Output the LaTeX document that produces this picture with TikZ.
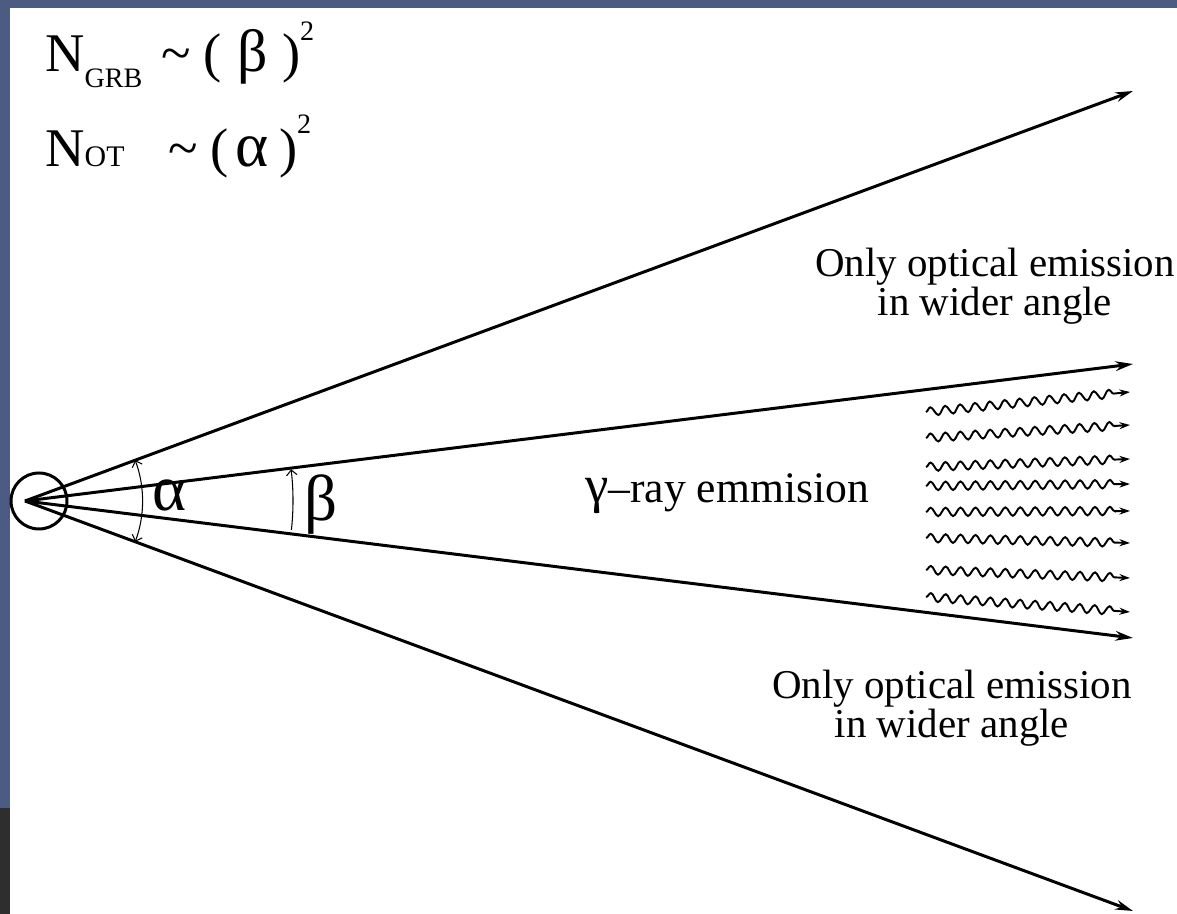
\documentclass[tikz,border=0pt]{standalone}
\usepackage{fontspec}
\setmainfont{Liberation Serif}
\usetikzlibrary{arrows.meta, calc, decorations.pathmorphing}
\definecolor{slideblue}{HTML}{4B5B82}
\definecolor{slidedark}{HTML}{2E2E2E}
\definecolor{ink}{HTML}{000000}
\newcommand{\subtxt}[1]{{\fontsize{16}{16}\selectfont #1}}

\begin{document}
\begin{tikzpicture}[
    >=Stealth,
    ray/.style={-{Stealth[length=10pt, width=5.5pt]}, line width=1.7pt, ink},
    wave/.style={-{Stealth[length=6pt, width=4pt]}, line width=1.1pt, ink,
                 decorate, decoration={snake, segment length=8.5pt,
                 amplitude=2.4pt, post length=7pt}},
    angarc/.style={line width=0.6pt, ink},
    % Text styles
    formula/.style={font=\fontsize{31}{31}\selectfont, inner sep=0pt},
    lbl/.style={font=\fontsize{23.3}{20}\selectfont, align=center, inner sep=0pt},
    greek/.style={font=\fontsize{37}{37}\selectfont, inner sep=0pt}
]

% ========== Page and slide frame ==========
\useasboundingbox (0,0) rectangle (23.54,18.28);
\fill[white] (0,0) rectangle (23.54,18.28);
\fill[slideblue] (0,18.12) rectangle (23.54,18.28);
\fill[slideblue] (0,2.12) rectangle (0.2,18.28);
\fill[slidedark] (0,0) rectangle (0.2,2.12);

% ========== Scaling laws ==========
\node[formula, anchor=base west] (ngrb) at (0.90,16.84)
    {N\raisebox{-9pt}{\subtxt{GRB}}\hspace{11pt}\textasciitilde\hspace{7pt}(\hspace{9pt}{\fontsize{34}{34}\selectfont β}\hspace{8pt})\raisebox{18pt}{\subtxt{2}}};
\node[formula, anchor=base west] (not) at (0.90,14.94)
    {N{\fontsize{17}{17}\selectfont OT}\hspace{25pt}\textasciitilde\hspace{7pt}(\hspace{4pt}{\fontsize{36}{36}\selectfont α}\hspace{6pt})\raisebox{19pt}{\subtxt{2}}};

% ========== Source and cone ==========
\node[circle, draw=ink, line width=1.7pt, minimum size=1.12cm, inner sep=0pt]
    (src) at (0.78,8.26) {};
\coordinate (apex) at (0.50,8.26);
\coordinate (outtop) at (22.66,16.46);
\coordinate (intop) at (22.66,11.00);
\coordinate (inbot) at (22.66,5.52);
\coordinate (outbot) at (22.66,0.06);

\draw[ray] (apex) -- (outtop);
\draw[ray] (apex) -- (intop);
\draw[ray] (apex) -- (inbot);
\draw[ray] (apex) -- (outbot);

% --- opening angles ---
\draw[angarc, {Straight Barb[length=3pt]}-{Straight Barb[length=3pt]}]
    ($(apex)+(20.3:2.35)$) arc[start angle=20.3, end angle=-20.3, radius=2.35];
\draw[angarc, -{Straight Barb[length=3pt]}]
    ($(apex)+(-6.2:5.36)$) arc[start angle=-6.2, end angle=6.8, radius=5.36];
\node[greek] (alpha) at (3.40,8.38) {α};
\node[greek] (beta) at (6.42,8.18) {β};

% ========== Gamma-ray photons ==========
\foreach \ya/\yb in {10.04/10.44, 9.52/9.78, 8.94/9.10, 8.56/8.60,
                     8.04/8.06, 7.52/7.42, 6.88/6.72, 6.34/6.04}
    \draw[wave] (18.52,\ya) -- (22.60,\yb);

\node[lbl, anchor=base west, font=\fontsize{24.8}{20}\selectfont] (gam) at (11.70,8.22)
    {{\fontsize{30}{30}\selectfont γ}–ray emmision};

% ========== Optical labels ==========
\node[lbl] (opttop) at (19.90,12.56) {Only optical emission\\in wider angle};
\node[lbl] (optbot) at (19.04,4.12) {Only optical emission\\in wider angle};

\end{tikzpicture}
\end{document}
